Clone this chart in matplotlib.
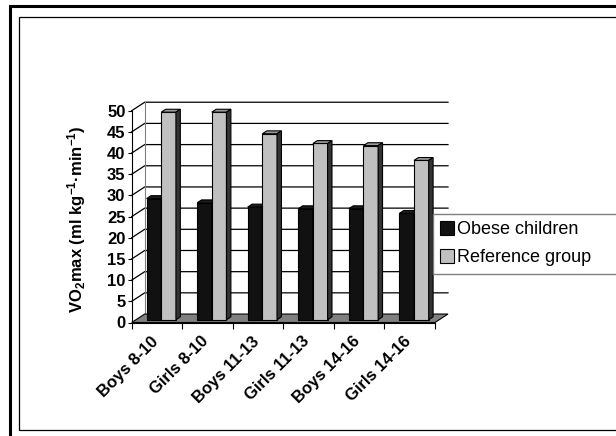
import matplotlib.pyplot as plt
import matplotlib.transforms as mtransforms
from matplotlib.patches import Polygon, Rectangle

groups = ["Boys 8-10", "Girls 8-10", "Boys 11-13", "Girls 11-13", "Boys 14-16", "Girls 14-16"]
obese = [28.6, 27.6, 26.6, 26.2, 26.2, 25.1]
reference = [49.0, 49.0, 43.9, 41.6, 41.1, 37.6]
series_names = ["Obese children", "Reference group"]
yticks = list(range(0, 51, 5))

plt.rcParams["font.family"] = "Liberation Sans"
plt.rcParams["mathtext.fontset"] = "custom"
plt.rcParams["mathtext.rm"] = "Liberation Sans:bold"
plt.rcParams["mathtext.it"] = "Liberation Sans:bold"
plt.rcParams["mathtext.bf"] = "Liberation Sans:bold"

W, H = 616, 436
fig = plt.figure(figsize=(W / 100, H / 100), dpi=100)

# place the axes so that one category and one value unit have fixed pixel sizes
x0_px, cat_px = 131.7, 50.55
y0_px, unit_px = 322.5, 4.236
xlim = (-0.3, 6.6)
ylim = (-6, 54)
left = (x0_px + xlim[0] * cat_px) / W
right = (x0_px + xlim[1] * cat_px) / W
bottom = 1 - (y0_px - ylim[0] * unit_px) / H
top = 1 - (y0_px - ylim[1] * unit_px) / H
ax = fig.add_axes([left, bottom, right - left, top - bottom])
ax.set_xlim(*xlim)
ax.set_ylim(*ylim)
ax.patch.set_visible(False)

n = len(groups)
ymax = yticks[-1]
dx, dy = 0.257, 2.0      # depth of the floor, in data units
front, thick = 0.33, 0.34  # bar depth position as a fraction of the floor depth
width = 0.29

# side wall, back wall gridlines, floor
for v in yticks[1:]:
    ax.plot([0, dx, n + dx], [v, v + dy, v + dy], color="black", lw=0.9, zorder=1)
ax.plot([dx, dx], [dy, ymax + dy], color="#808080", lw=0.8, zorder=1)
ax.add_patch(Polygon([(0, 0), (n, 0), (n + dx, dy), (dx, dy)], closed=True,
                     fc="#808080", ec="black", lw=0.8, zorder=2))

fx, fy = front * dx, front * dy
tx, ty = thick * dx, thick * dy
colors = [("#111111", "#1c1c1c", "#000000"), ("#c0c0c0", "#9a9a9a", "#333333")]
handles = []
for s, vals in enumerate([obese, reference]):
    face, topc, sidec = colors[s]
    xs = [i + 0.5 - width + s * width + fx for i in range(n)]
    bars = ax.bar(xs, vals, width=width, bottom=fy, align="edge",
                  color=face, edgecolor="black", lw=0.8, zorder=3 + 2 * s)
    handles.append(bars)
    for x, v in zip(xs, vals):
        x1 = x + width
        ax.add_patch(Polygon([(x, v + fy), (x1, v + fy), (x1 + tx, v + fy + ty), (x + tx, v + fy + ty)],
                             closed=True, fc=topc, ec="black", lw=0.8, zorder=3 + 2 * s))
        ax.add_patch(Polygon([(x1, fy), (x1, v + fy), (x1 + tx, v + fy + ty), (x1 + tx, fy + ty)],
                             closed=True, fc=sidec, ec="black", lw=0.8, zorder=3 + 2 * s))

for side in ["top", "right"]:
    ax.spines[side].set_visible(False)
ax.spines["left"].set_position(("data", 0))
ax.spines["left"].set_bounds(0, ymax)
ax.spines["bottom"].set_position(("data", 0))
ax.spines["bottom"].set_bounds(0, n)
ax.spines["left"].set_linewidth(0.8)
ax.spines["bottom"].set_linewidth(0.8)

ax.set_yticks(yticks)
ax.set_yticklabels([str(v) for v in yticks], fontweight="bold", fontsize=12)
ax.tick_params(axis="y", direction="out", length=3, width=0.8, pad=1.5)
ax.set_xticks(range(n + 1))
ax.set_xticklabels([])
ax.tick_params(axis="x", which="major", direction="out", length=4, width=0.8)
ax.set_xticks([i + 0.5 for i in range(n)], minor=True)
ax.set_xticklabels(groups, minor=True, rotation=45, ha="right", va="top",
                   fontweight="bold", fontsize=12)
ax.tick_params(axis="x", which="minor", length=0, pad=8)
shift = mtransforms.ScaledTranslation(4 / 100, 0, fig.dpi_scale_trans)
for lab in ax.get_xticklabels(minor=True):
    lab.set_transform(lab.get_transform() + shift)

ax.set_ylabel("VO$_2$max (ml kg$^{-1}$\u00b7min$^{-1}$)", fontweight="bold", fontsize=12)
ax.yaxis.set_label_coords((88 - left * W) / ((right - left) * W), 0.505)

fig.legend(handles, series_names, loc="upper left", mode="expand",
           bbox_to_anchor=(432.7 / W, 1 - 282 / H, 0.35, 68 / H), borderaxespad=0,
           fontsize=13, frameon=True, fancybox=False, framealpha=1, edgecolor="#808080",
           handlelength=0.8, handleheight=0.8, handletextpad=0.15, borderpad=0.4,
           labelspacing=0.6)

# chart frames, running off the right and bottom edges
fig.add_artist(Rectangle((9.5 / W, -0.1), 1.2, 1 - 6.5 / H + 0.1, transform=fig.transFigure,
                         fill=False, ec="black", lw=2.2))
fig.add_artist(Rectangle((19.5 / W, 1 - 429.5 / H), 1.2, (429.5 - 17.5) / H,
                         transform=fig.transFigure, fill=False, ec="black", lw=0.9))

fig.savefig("out.png", dpi=100)
